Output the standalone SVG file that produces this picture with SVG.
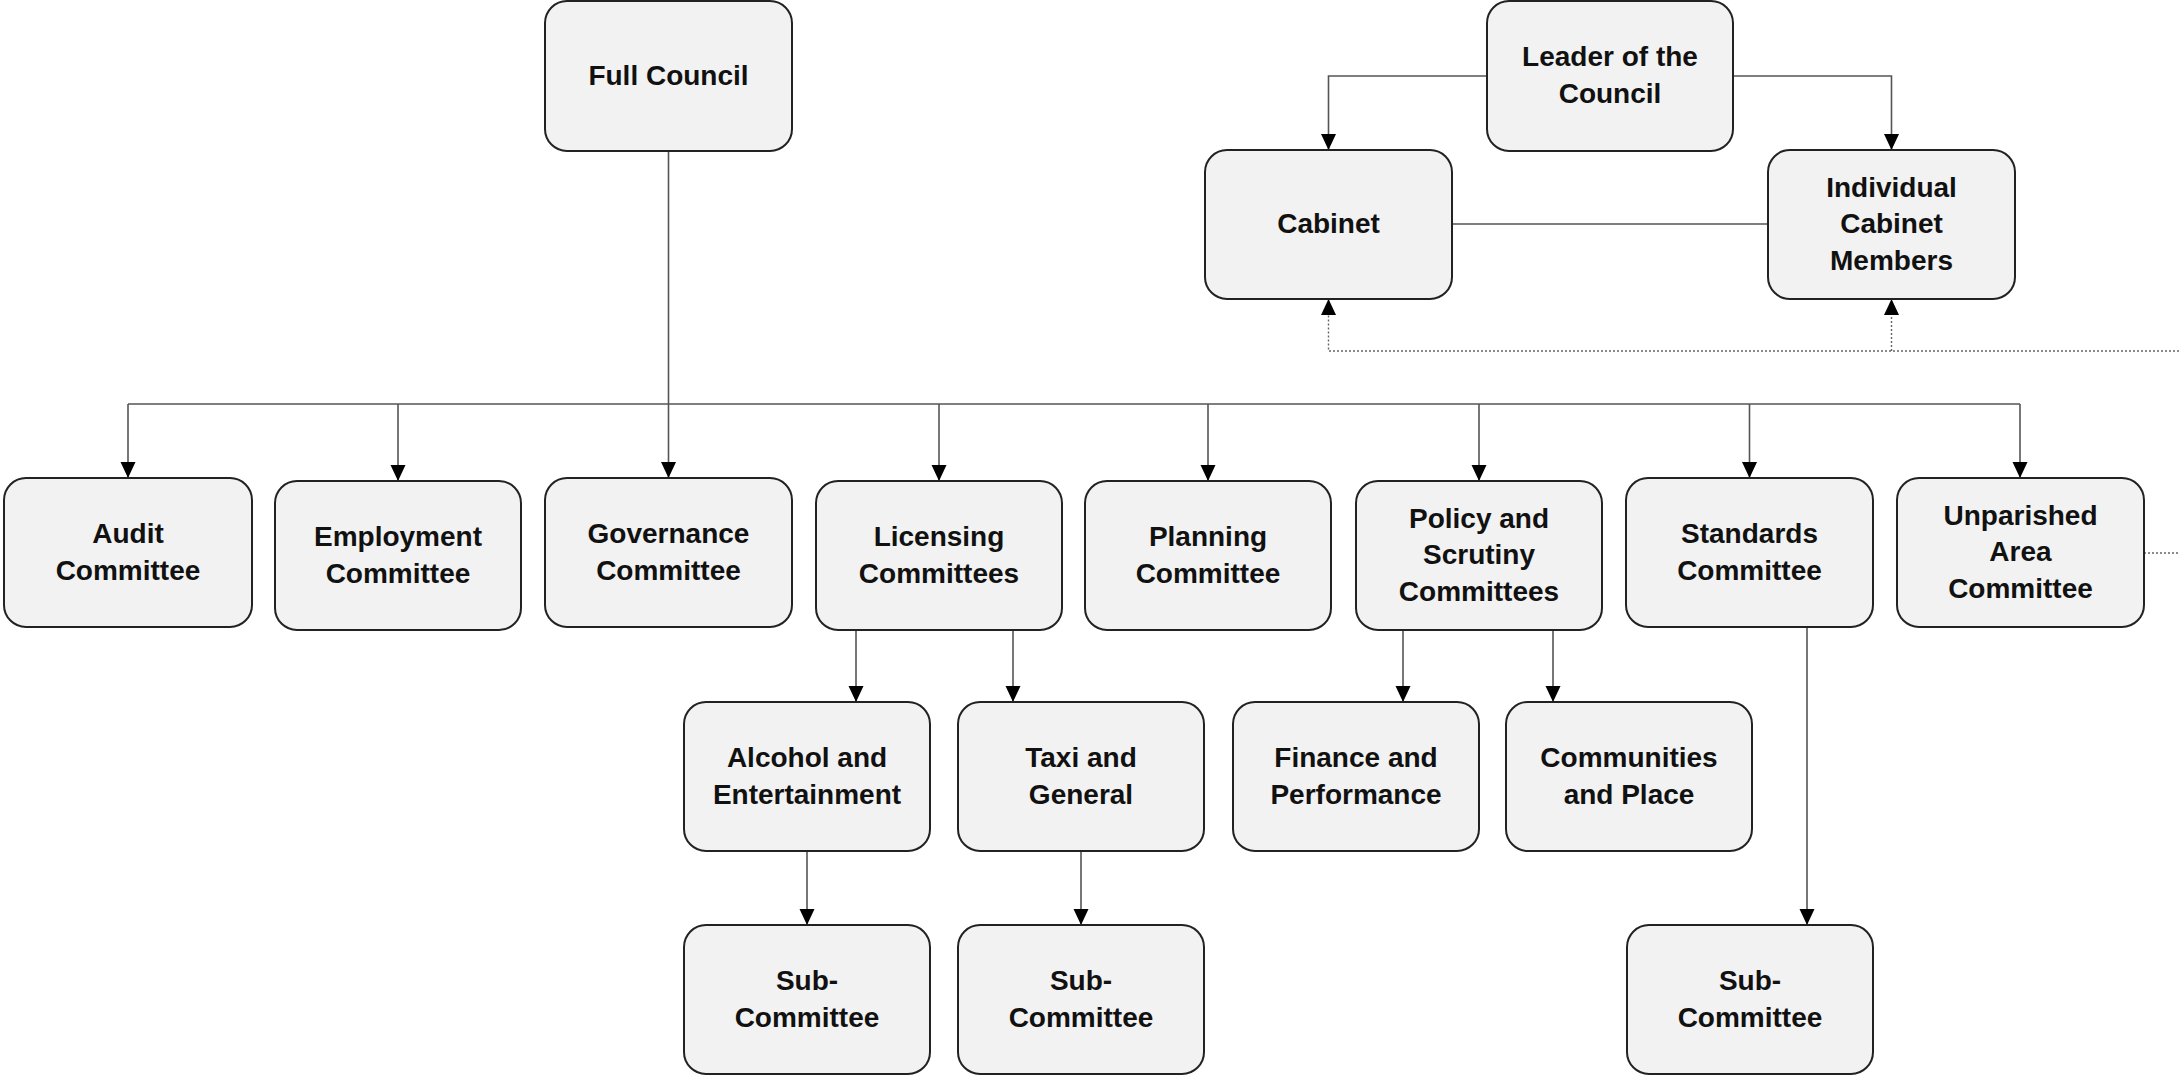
<svg xmlns="http://www.w3.org/2000/svg" width="2179" height="1080" viewBox="0 0 2179 1080">
<style>
.box{fill:#f2f2f2;stroke:#222;stroke-width:2}
.t{font-family:"Liberation Sans",Arial,sans-serif;font-weight:bold;font-size:28px;fill:#111;text-anchor:middle}
.c{fill:none;stroke:#555;stroke-width:1.6}
.a{marker-end:url(#ah)}
.d{fill:none;stroke:#666;stroke-width:1.4;stroke-dasharray:2 2}
</style>
<defs>
<marker id="ah" markerUnits="userSpaceOnUse" markerWidth="16" markerHeight="16" viewBox="0 0 16 16" refX="16" refY="8" orient="auto">
<path d="M0,0.5 L16,8 L0,15.5 z" fill="#000"/>
</marker>
</defs>
<rect width="2179" height="1080" fill="#fff"/>
<g id="connectors">
<path class="c a" d="M668.5,151 V478"/>
<path class="c" d="M128,404 H2020"/>
<path class="c a" d="M128,404 V478"/>
<path class="c a" d="M398,404 V481"/>
<path class="c a" d="M939,404 V481"/>
<path class="c a" d="M1208,404 V481"/>
<path class="c a" d="M1479,404 V481"/>
<path class="c a" d="M1749.5,404 V478"/>
<path class="c a" d="M2020,404 V478"/>
<path class="c a" d="M1487,76 H1328.5 V150"/>
<path class="c a" d="M1733,76 H1891.5 V150"/>
<path class="c" d="M1452,224 H1768"/>
<path class="c a" d="M856,630 V702"/>
<path class="c a" d="M1013,630 V702"/>
<path class="c a" d="M807,851 V925"/>
<path class="c a" d="M1081,851 V925"/>
<path class="c a" d="M1403,630 V702"/>
<path class="c a" d="M1553,630 V702"/>
<path class="c a" d="M1807,627 V925"/>
<path class="d a" d="M2179,351 H1328.5 V299"/>
<path class="d a" d="M1891.5,351 V299"/>
<path class="d" d="M2144,553 H2179"/>
</g>
<g id="full-council"><rect class="box" x="545" y="1" width="247" height="150" rx="22"/><text class="t" x="668.5" y="84.5">Full Council</text></g>
<g id="leader"><rect class="box" x="1487" y="1" width="246" height="150" rx="22"/><text class="t" x="1610" y="66">Leader of the</text><text class="t" x="1610" y="102.5">Council</text></g>
<g id="cabinet"><rect class="box" x="1205" y="150" width="247" height="149" rx="22"/><text class="t" x="1328.5" y="233">Cabinet</text></g>
<g id="individual-cabinet-members"><rect class="box" x="1768" y="150" width="247" height="149" rx="22"/><text class="t" x="1891.5" y="196.5">Individual</text><text class="t" x="1891.5" y="233">Cabinet</text><text class="t" x="1891.5" y="269.5">Members</text></g>
<g id="audit"><rect class="box" x="4" y="478" width="248" height="149" rx="22"/><text class="t" x="128" y="543">Audit</text><text class="t" x="128" y="579.5">Committee</text></g>
<g id="employment"><rect class="box" x="275" y="481" width="246" height="149" rx="22"/><text class="t" x="398" y="546">Employment</text><text class="t" x="398" y="582.5">Committee</text></g>
<g id="governance"><rect class="box" x="545" y="478" width="247" height="149" rx="22"/><text class="t" x="668.5" y="543">Governance</text><text class="t" x="668.5" y="579.5">Committee</text></g>
<g id="licensing"><rect class="box" x="816" y="481" width="246" height="149" rx="22"/><text class="t" x="939" y="546">Licensing</text><text class="t" x="939" y="582.5">Committees</text></g>
<g id="planning"><rect class="box" x="1085" y="481" width="246" height="149" rx="22"/><text class="t" x="1208" y="546">Planning</text><text class="t" x="1208" y="582.5">Committee</text></g>
<g id="policy"><rect class="box" x="1356" y="481" width="246" height="149" rx="22"/><text class="t" x="1479" y="527.5">Policy and</text><text class="t" x="1479" y="564">Scrutiny</text><text class="t" x="1479" y="600.5">Committees</text></g>
<g id="standards"><rect class="box" x="1626" y="478" width="247" height="149" rx="22"/><text class="t" x="1749.5" y="543">Standards</text><text class="t" x="1749.5" y="579.5">Committee</text></g>
<g id="unparished"><rect class="box" x="1897" y="478" width="247" height="149" rx="22"/><text class="t" x="2020.5" y="524.5">Unparished</text><text class="t" x="2020.5" y="561">Area</text><text class="t" x="2020.5" y="597.5">Committee</text></g>
<g id="alcohol"><rect class="box" x="684" y="702" width="246" height="149" rx="22"/><text class="t" x="807" y="767">Alcohol and</text><text class="t" x="807" y="803.5">Entertainment</text></g>
<g id="taxi"><rect class="box" x="958" y="702" width="246" height="149" rx="22"/><text class="t" x="1081" y="767">Taxi and</text><text class="t" x="1081" y="803.5">General</text></g>
<g id="finance"><rect class="box" x="1233" y="702" width="246" height="149" rx="22"/><text class="t" x="1356" y="767">Finance and</text><text class="t" x="1356" y="803.5">Performance</text></g>
<g id="communities"><rect class="box" x="1506" y="702" width="246" height="149" rx="22"/><text class="t" x="1629" y="767">Communities</text><text class="t" x="1629" y="803.5">and Place</text></g>
<g id="sub-alcohol"><rect class="box" x="684" y="925" width="246" height="149" rx="22"/><text class="t" x="807" y="990">Sub-</text><text class="t" x="807" y="1026.5">Committee</text></g>
<g id="sub-taxi"><rect class="box" x="958" y="925" width="246" height="149" rx="22"/><text class="t" x="1081" y="990">Sub-</text><text class="t" x="1081" y="1026.5">Committee</text></g>
<g id="sub-standards"><rect class="box" x="1627" y="925" width="246" height="149" rx="22"/><text class="t" x="1750" y="990">Sub-</text><text class="t" x="1750" y="1026.5">Committee</text></g>
</svg>
